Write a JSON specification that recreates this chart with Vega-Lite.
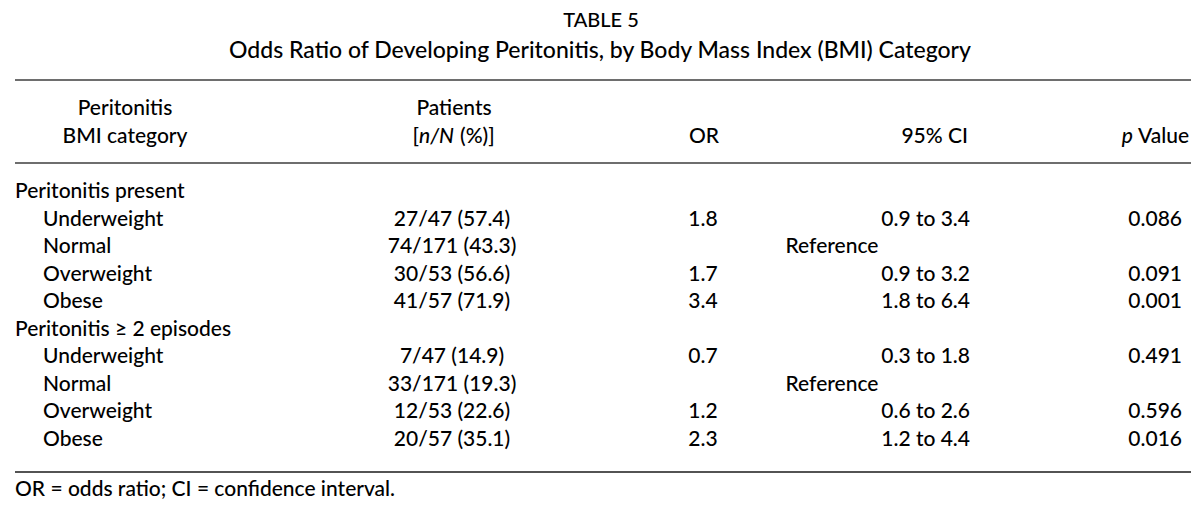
{
  "$schema": "https://vega.github.io/schema/vega-lite/v6.json",
  "width": 1200,
  "height": 518,
  "padding": 0,
  "autosize": {"type": "fit", "contains": "padding"},
  "background": "white",
  "config": {
    "view": {"stroke": null},
    "text": {"font": "Lato", "fontSize": 21, "fontWeight": 500, "color": "#000000", "baseline": "middle"}
  },
  "datasets": {
    "rows": [
      {"row": 0, "kind": "group", "label": "Peritonitis present", "patients": "", "or": "", "ci": "", "p": "", "note": ""},
      {"row": 1, "kind": "item", "label": "Underweight", "patients": "27/47 (57.4)", "or": "1.8", "ci": "0.9 to 3.4", "p": "0.086", "note": ""},
      {"row": 2, "kind": "item", "label": "Normal", "patients": "74/171 (43.3)", "or": "", "ci": "", "p": "", "note": "Reference"},
      {"row": 3, "kind": "item", "label": "Overweight", "patients": "30/53 (56.6)", "or": "1.7", "ci": "0.9 to 3.2", "p": "0.091", "note": ""},
      {"row": 4, "kind": "item", "label": "Obese", "patients": "41/57 (71.9)", "or": "3.4", "ci": "1.8 to 6.4", "p": "0.001", "note": ""},
      {"row": 5, "kind": "group", "label": "Peritonitis ≥ 2 episodes", "patients": "", "or": "", "ci": "", "p": "", "note": ""},
      {"row": 6, "kind": "item", "label": "Underweight", "patients": "7/47 (14.9)", "or": "0.7", "ci": "0.3 to 1.8", "p": "0.491", "note": ""},
      {"row": 7, "kind": "item", "label": "Normal", "patients": "33/171 (19.3)", "or": "", "ci": "", "p": "", "note": "Reference"},
      {"row": 8, "kind": "item", "label": "Overweight", "patients": "12/53 (22.6)", "or": "1.2", "ci": "0.6 to 2.6", "p": "0.596", "note": ""},
      {"row": 9, "kind": "item", "label": "Obese", "patients": "20/57 (35.1)", "or": "2.3", "ci": "1.2 to 4.4", "p": "0.016", "note": ""}
    ],
    "header": [
      {"col": "cat", "row": -3, "text": "Peritonitis"},
      {"col": "cat", "row": -2, "text": "BMI category"},
      {"col": "pat", "row": -3, "text": "Patients"},
      {"col": "patL", "row": -2, "text": "["},
      {"col": "patI", "row": -2, "text": "n/N"},
      {"col": "patR", "row": -2, "text": "(%)]"},
      {"col": "or", "row": -2, "text": "OR"},
      {"col": "ci", "row": -2, "text": "95% CI"},
      {"col": "pI", "row": -2, "text": "p"},
      {"col": "pR", "row": -2, "text": "Value"}
    ],
    "caption": [
      {"part": "title", "text": "TABLE 5"},
      {"part": "subtitle", "text": "Odds Ratio of Developing Peritonitis, by Body Mass Index (BMI) Category"},
      {"part": "footnote", "text": "OR = odds ratio; CI = confidence interval."}
    ]
  },
  "layer": [
    {
      "data": {"name": "caption"},
      "transform": [{"filter": "datum.part === 'title'"}],
      "mark": {"type": "text", "align": "center", "fontSize": 20},
      "encoding": {
        "x": {"datum": 601, "type": "quantitative", "scale": {"domain": [0, 1200], "nice": false, "zero": false}, "axis": null},
        "y": {"datum": -6.2, "type": "quantitative", "scale": {"domain": [-6.967, 11.829], "nice": false, "zero": false, "reverse": true}, "axis": null},
        "text": {"field": "text"}
      }
    },
    {
      "data": {"name": "caption"},
      "transform": [{"filter": "datum.part === 'subtitle'"}],
      "mark": {"type": "text", "align": "center", "fontSize": 23},
      "encoding": {
        "x": {"datum": 600, "type": "quantitative"},
        "y": {"datum": -5.1, "type": "quantitative"},
        "text": {"field": "text"}
      }
    },
    {
      "data": {"name": "caption"},
      "transform": [{"filter": "datum.part === 'footnote'"}],
      "mark": {"type": "text", "align": "left"},
      "encoding": {
        "x": {"datum": 15, "type": "quantitative"},
        "y": {"datum": 10.82, "type": "quantitative"},
        "text": {"field": "text"}
      }
    },
    {
      "data": {"values": [{"rule": "top"}]},
      "mark": {"type": "rule", "color": "#6e6e6e", "strokeWidth": 2},
      "encoding": {
        "x": {"datum": 15, "type": "quantitative"},
        "x2": {"datum": 1191},
        "y": {"datum": -4.064, "type": "quantitative"}
      }
    },
    {
      "data": {"values": [{"rule": "header"}]},
      "mark": {"type": "rule", "color": "#6e6e6e", "strokeWidth": 2},
      "encoding": {
        "x": {"datum": 15, "type": "quantitative"},
        "x2": {"datum": 1191},
        "y": {"datum": -1.05, "type": "quantitative"}
      }
    },
    {
      "data": {"values": [{"rule": "bottom"}]},
      "mark": {"type": "rule", "color": "#1a1a1a", "strokeWidth": 1.6},
      "encoding": {
        "x": {"datum": 15, "type": "quantitative"},
        "x2": {"datum": 1191},
        "y": {"datum": 10.16, "type": "quantitative"}
      }
    },
    {
      "data": {"name": "header"},
      "transform": [{"filter": "datum.col === 'cat'"}],
      "mark": {"type": "text", "align": "center"},
      "encoding": {
        "x": {"datum": 125, "type": "quantitative"},
        "y": {"field": "row", "type": "quantitative"},
        "text": {"field": "text"}
      }
    },
    {
      "data": {"name": "header"},
      "transform": [{"filter": "datum.col === 'pat'"}],
      "mark": {"type": "text", "align": "center"},
      "encoding": {
        "x": {"datum": 454, "type": "quantitative"},
        "y": {"field": "row", "type": "quantitative"},
        "text": {"field": "text"}
      }
    },
    {
      "data": {"name": "header"},
      "transform": [{"filter": "datum.col === 'patL'"}],
      "mark": {"type": "text", "align": "right"},
      "encoding": {
        "x": {"datum": 419, "type": "quantitative"},
        "y": {"field": "row", "type": "quantitative"},
        "text": {"field": "text"}
      }
    },
    {
      "data": {"name": "header"},
      "transform": [{"filter": "datum.col === 'patI'"}],
      "mark": {"type": "text", "align": "left", "fontStyle": "italic"},
      "encoding": {
        "x": {"datum": 419, "type": "quantitative"},
        "y": {"field": "row", "type": "quantitative"},
        "text": {"field": "text"}
      }
    },
    {
      "data": {"name": "header"},
      "transform": [{"filter": "datum.col === 'patR'"}],
      "mark": {"type": "text", "align": "left"},
      "encoding": {
        "x": {"datum": 460, "type": "quantitative"},
        "y": {"field": "row", "type": "quantitative"},
        "text": {"field": "text"}
      }
    },
    {
      "data": {"name": "header"},
      "transform": [{"filter": "datum.col === 'or'"}],
      "mark": {"type": "text", "align": "center"},
      "encoding": {
        "x": {"datum": 704, "type": "quantitative"},
        "y": {"field": "row", "type": "quantitative"},
        "text": {"field": "text"}
      }
    },
    {
      "data": {"name": "header"},
      "transform": [{"filter": "datum.col === 'ci'"}],
      "mark": {"type": "text", "align": "right"},
      "encoding": {
        "x": {"datum": 968, "type": "quantitative"},
        "y": {"field": "row", "type": "quantitative"},
        "text": {"field": "text"}
      }
    },
    {
      "data": {"name": "header"},
      "transform": [{"filter": "datum.col === 'pI'"}],
      "mark": {"type": "text", "align": "right", "fontStyle": "italic"},
      "encoding": {
        "x": {"datum": 1133, "type": "quantitative"},
        "y": {"field": "row", "type": "quantitative"},
        "text": {"field": "text"}
      }
    },
    {
      "data": {"name": "header"},
      "transform": [{"filter": "datum.col === 'pR'"}],
      "mark": {"type": "text", "align": "left"},
      "encoding": {
        "x": {"datum": 1138, "type": "quantitative"},
        "y": {"field": "row", "type": "quantitative"},
        "text": {"field": "text"}
      }
    },
    {
      "data": {"name": "rows"},
      "transform": [{"filter": "datum.kind === 'group'"}],
      "mark": {"type": "text", "align": "left"},
      "encoding": {
        "x": {"datum": 15, "type": "quantitative"},
        "y": {"field": "row", "type": "quantitative"},
        "text": {"field": "label"}
      }
    },
    {
      "data": {"name": "rows"},
      "transform": [{"filter": "datum.kind === 'item'"}],
      "mark": {"type": "text", "align": "left"},
      "encoding": {
        "x": {"datum": 43, "type": "quantitative"},
        "y": {"field": "row", "type": "quantitative"},
        "text": {"field": "label"}
      }
    },
    {
      "data": {"name": "rows"},
      "transform": [{"filter": "datum.patients !== ''"}],
      "mark": {"type": "text", "align": "center"},
      "encoding": {
        "x": {"datum": 452, "type": "quantitative"},
        "y": {"field": "row", "type": "quantitative"},
        "text": {"field": "patients"}
      }
    },
    {
      "data": {"name": "rows"},
      "transform": [{"filter": "datum.or !== ''"}],
      "mark": {"type": "text", "align": "center"},
      "encoding": {
        "x": {"datum": 703, "type": "quantitative"},
        "y": {"field": "row", "type": "quantitative"},
        "text": {"field": "or"}
      }
    },
    {
      "data": {"name": "rows"},
      "transform": [{"filter": "datum.ci !== ''"}],
      "mark": {"type": "text", "align": "right"},
      "encoding": {
        "x": {"datum": 970, "type": "quantitative"},
        "y": {"field": "row", "type": "quantitative"},
        "text": {"field": "ci"}
      }
    },
    {
      "data": {"name": "rows"},
      "transform": [{"filter": "datum.note !== ''"}],
      "mark": {"type": "text", "align": "center"},
      "encoding": {
        "x": {"datum": 832, "type": "quantitative"},
        "y": {"field": "row", "type": "quantitative"},
        "text": {"field": "note"}
      }
    },
    {
      "data": {"name": "rows"},
      "transform": [{"filter": "datum.p !== ''"}],
      "mark": {"type": "text", "align": "right"},
      "encoding": {
        "x": {"datum": 1182, "type": "quantitative"},
        "y": {"field": "row", "type": "quantitative"},
        "text": {"field": "p"}
      }
    }
  ]
}
